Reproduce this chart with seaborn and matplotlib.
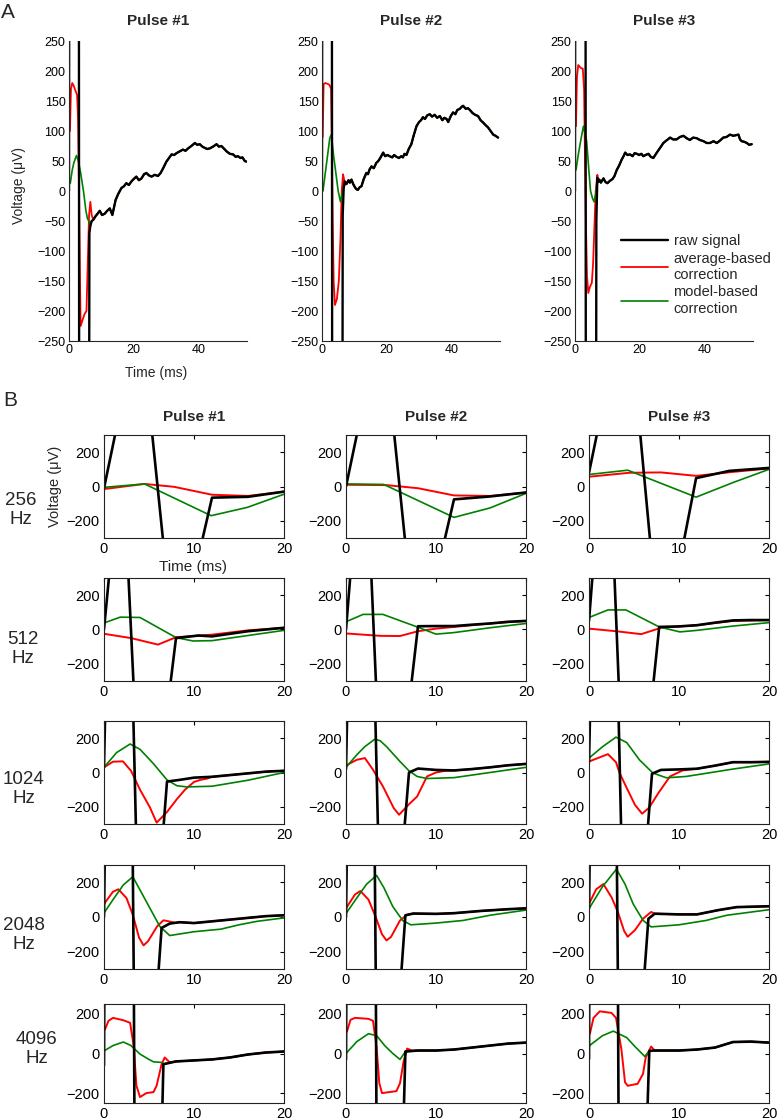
import matplotlib
matplotlib.use("Agg")
import matplotlib.pyplot as plt
import seaborn as sns
import pandas as pd
from matplotlib.lines import Line2D

# ---------------------------------------------------------
# Data: (time ms, voltage uV) pairs
# ---------------------------------------------------------
# Part A, three pulses. The raw trace is the stimulus spike plus a shared tail;
# both corrections run into that same tail once the artifact is over.
A1_RAW_HEAD = [(0, 0), (0.15, 900), (3.0, 900), (3.2, -900), (6.1, -900)]
A1_TAIL = [(6.3, -70), (6.6, -58), (7.0, -50), (7.5, -48), (8.2, -42), (8.8, -38), (9.5, -33),
           (10.2, -40), (11.0, -38), (11.8, -33), (12.6, -29), (13.4, -40), (14.0, -25), (14.4, -15),
           (15.2, -5), (16.2, 5), (17.0, 8), (17.7, 13), (18.5, 10), (19.3, 16), (20.0, 20),
           (20.8, 24), (21.6, 18), (22.4, 21), (23.2, 28), (23.9, 30), (24.7, 26), (25.5, 24),
           (26.5, 27), (27.5, 25), (28.3, 30), (29.1, 38), (30.1, 49), (30.9, 55), (31.7, 61),
           (32.5, 60), (33.2, 63), (34.2, 66), (35.2, 69), (36.0, 67), (36.8, 71), (37.8, 75),
           (38.9, 80), (39.6, 77), (40.4, 78), (41.2, 74), (41.9, 72), (42.7, 70), (43.5, 71),
           (44.5, 74), (45.6, 78), (46.3, 74), (47.1, 75), (48.0, 70), (48.7, 66), (49.7, 62),
           (50.7, 61), (51.5, 57), (52.2, 58), (53.0, 55), (53.6, 56), (54.3, 50), (54.8, 49)]
A1_AVG_HEAD = [(0.3, 100), (0.6, 170), (1.0, 180), (1.5, 175), (1.8, 170), (2.5, 160), (2.8, 120),
               (3.1, 0), (3.4, -150), (3.6, -225), (4.2, -215), (4.8, -205), (5.4, -200),
               (5.8, -120), (6.2, -40), (6.6, -18), (7.0, -40), (7.4, -46)]
A1_MOD_HEAD = [(0.4, 13), (1.0, 35), (1.5, 47), (2.3, 59), (2.9, 50), (3.6, 30), (4.5, -1),
               (5.2, -32), (5.7, -46), (6.3, -52)]

A2_RAW_HEAD = [(0, 0), (0.15, 900), (3.0, 900), (3.2, -900), (6.2, -900)]
A2_TAIL = [(6.4, -40), (6.7, 5), (7.0, 16), (7.6, 12), (8.2, 18), (8.6, 14), (9.1, 19), (9.6, 12),
           (10.1, 7), (10.6, 3), (11.1, 2), (11.6, 6), (12.2, 8), (12.9, 20), (13.7, 30), (14.2, 28),
           (14.7, 36), (15.3, 41), (16.0, 38), (16.8, 47), (17.4, 50), (18.0, 55), (18.9, 64),
           (19.5, 58), (20.2, 60), (20.9, 58), (21.7, 56), (22.3, 60), (23.0, 57), (23.8, 55),
           (24.5, 58), (25.0, 56), (25.5, 62), (26.1, 60), (26.8, 70), (27.6, 78), (28.3, 92),
           (29.2, 108), (30.0, 115), (30.6, 118), (31.2, 123), (31.8, 120), (32.5, 126),
           (33.3, 128), (34.0, 124), (34.8, 127), (35.6, 122), (36.4, 125), (37.2, 118),
           (37.8, 122), (38.5, 120), (39.0, 115), (39.8, 125), (40.5, 131), (41.2, 128),
           (41.8, 135), (42.6, 137), (43.1, 140), (43.6, 142), (44.4, 137), (45.1, 138),
           (45.7, 135), (46.5, 130), (47.3, 127), (48.2, 125), (49.0, 118), (49.8, 114),
           (50.5, 110), (51.3, 106), (52.1, 100), (52.9, 94), (53.6, 92), (54.4, 89)]
A2_AVG_HEAD = [(0.2, 90), (0.5, 178), (1.0, 180), (2.0, 178), (2.4, 176), (2.8, 170), (3.0, 100),
               (3.3, -50), (3.6, -150), (4.0, -190), (4.6, -180), (5.2, -150), (5.7, -80),
               (6.1, 0), (6.5, 28), (6.8, 20), (7.2, 10)]
A2_MOD_HEAD = [(0.3, 0), (1.5, 50), (2.4, 88), (2.9, 94), (3.6, 58), (4.4, 25), (5.0, 0),
               (5.7, -18), (6.2, -5), (6.7, 5)]

A3_RAW_HEAD = [(0, 0), (0.15, 900), (3.2, 900), (3.4, -900), (6.4, -900)]
A3_TAIL = [(6.6, -50), (6.9, 22), (7.2, 15), (7.5, 19), (8.0, 14), (8.8, 21), (9.4, 15), (10.0, 13),
           (10.8, 17), (11.6, 20), (12.2, 25), (12.9, 35), (13.6, 42), (14.4, 52), (15.0, 58),
           (15.5, 64), (16.2, 60), (17.0, 61), (17.8, 58), (18.4, 63), (19.1, 62), (19.8, 60),
           (20.5, 62), (21.1, 58), (21.8, 60), (22.7, 62), (23.4, 57), (24.2, 55), (24.8, 60),
           (25.4, 65), (26.3, 72), (27.3, 80), (28.2, 84), (29.4, 89), (30.3, 86), (31.4, 86),
           (32.4, 90), (33.5, 92), (34.5, 88), (35.5, 85), (36.5, 89), (37.6, 88), (38.6, 85),
           (39.7, 83), (40.7, 80), (41.7, 80), (42.8, 83), (43.8, 80), (44.8, 84), (45.8, 89),
           (46.8, 90), (47.9, 94), (48.9, 92), (50.5, 94), (51.0, 86), (51.5, 83), (52.3, 82),
           (53.1, 80), (53.8, 77), (54.6, 78)]
A3_AVG_HEAD = [(0.3, 108), (0.6, 190), (1.0, 210), (1.8, 205), (2.4, 204), (2.8, 170), (3.1, 50),
               (3.4, -60), (3.7, -140), (4.1, -170), (4.6, -160), (5.2, -153), (5.6, -120),
               (6.0, -60), (6.4, 0), (6.9, 27), (7.2, 18)]
A3_MOD_HEAD = [(0.3, 35), (1.0, 60), (1.8, 85), (2.6, 108), (3.6, 83), (4.2, 40), (4.8, 0),
               (5.4, -12), (5.9, -18), (6.4, -5), (6.8, 15)]

# Part B, one list per sampling rate, one entry per pulse
RATES = ["256", "512", "1024", "2048", "4096"]

RAW_256 = [
    [(0, -10), (4.0, 1000), (7.9, -1000), (12.0, -65), (16.0, -60), (20.0, -30)],
    [(0, 0), (4.0, 1000), (7.9, -1000), (12.0, -75), (16.0, -58), (20.0, -35)],
    [(0, 80), (4.2, 1150), (8.0, -1000), (11.9, 49), (15.6, 91), (20.0, 108)],
]
AVG_256 = [
    [(0, -15), (4.5, 15), (7.8, -2), (12.0, -48), (16.0, -55), (20, -30)],
    [(0, 10), (4.5, 8), (8.0, -10), (12.0, -52), (16.0, -55), (20, -35)],
    [(0, 57), (4.5, 80), (8.0, 82), (11.9, 62), (16, 85), (20, 105)],
]
MOD_256 = [
    [(0, -5), (4.5, 15), (11.9, -170), (15.9, -122), (20, -45)],
    [(0, 15), (4.2, 12), (12.0, -180), (16.0, -125), (20, -40)],
    [(0, 70), (4.3, 95), (11.9, -62), (16.0, 23), (20, 100)],
]

RAW_512 = [
    [(0, 0), (2.0, 1100), (3.9, -1000), (5.9, -950), (8.0, -50), (10.5, -35), (12, -40),
     (14, -25), (16, -10), (18, 0), (20, 10)],
    [(0, 0), (2.0, 1300), (3.9, -1000), (5.9, -940), (8.0, 19), (10, 20), (12, 20), (14, 28),
     (16, 35), (18, 45), (20, 50)],
    [(0, 50), (2.0, 1400), (3.9, -1100), (5.9, -950), (7.8, 15), (10, 18), (12, 25), (14, 40),
     (16, 53), (18, 55), (20, 55)],
]
AVG_512 = [
    [(0, -25), (3.0, -50), (6.0, -88), (8.0, -45), (10, -38), (12, -30), (16, -5), (20, 10)],
    [(0, -23), (3.8, -37), (6.0, -38), (8.0, -10), (10, 5), (12, 15), (16, 35), (20, 50)],
    [(0, 5), (3.0, -10), (5.8, -27), (8.0, 10), (12, 25), (16, 50), (20, 55)],
]
MOD_512 = [
    [(0, 38), (1.8, 72), (4.0, 70), (8.0, -47), (9.9, -67), (12, -65), (16, -35), (20, -5)],
    [(0, 45), (1.9, 88), (4.1, 88), (7.9, 15), (10.0, -27), (12, -18), (16, 10), (20, 35)],
    [(0, 70), (2.1, 114), (4.1, 114), (7.8, 15), (10.1, -14), (12, -5), (16, 20), (20, 40)],
]

RAW_1024 = [
    [(0, 30), (1.0, 2500), (2.0, 2000), (3.0, 900), (3.9, -1100), (4.9, -1500), (5.9, -800),
     (7.0, -53), (8.4, -43), (10, -30), (12, -25), (14, -15), (16, -5), (18, 5), (20, 10)],
    [(0, 20), (1.0, 2500), (2.0, 2000), (3.0, 900), (3.9, -1100), (4.9, -1500), (5.9, -700),
     (7.0, 0), (8.0, 23), (10, 15), (12, 12), (14, 20), (16, 30), (18, 42), (20, 50)],
    [(0, 60), (1.0, 2500), (2.0, 2000), (3.0, 1000), (3.9, -1100), (4.9, -1500), (5.9, -750),
     (7.0, -7), (8.0, 15), (10, 18), (12, 22), (14, 40), (16, 60), (18, 60), (20, 62)],
]
AVG_1024 = [
    [(0, 30), (1.0, 63), (2.1, 65), (3.0, 10), (4.0, -100), (5.1, -203), (5.85, -292),
     (7.0, -230), (8.1, -155), (9.0, -100), (10.0, -55), (10.7, -43), (11.5, -35)],
    [(0, 41), (1.2, 74), (2.1, 84), (3.0, 16), (4.1, -81), (5.3, -207), (5.9, -246),
     (7.0, -185), (7.9, -140), (9.0, -23), (10, 0), (11, 10)],
    [(0, 64), (2.1, 107), (3.0, 60), (3.4, -3), (4.2, -91), (5.1, -188), (5.9, -240),
     (6.7, -204), (7.7, -120), (9.0, -23), (10.4, 12), (11, 16)],
]
MOD_1024 = [
    [(0, 30), (1.4, 116), (2.9, 166), (4.0, 135), (5.5, 51), (7.0, -43), (8.1, -77),
     (9.2, -84), (12, -80), (16, -45), (20, 0)],
    [(0, 30), (1.2, 103), (2.1, 151), (3.2, 194), (3.8, 185), (4.5, 151), (6.0, 64), (7.0, 10),
     (7.9, -23), (9.0, -35), (12, -30), (16, 0), (20, 30)],
    [(0, 84), (1.5, 150), (3.0, 206), (4.2, 174), (5.6, 74), (7.1, -3), (8.6, -31), (10.8, -23),
     (16, 20), (20, 50)],
]

RAW_2048 = [
    [(0, 0), (0.5, 2000), (3.0, 1500), (3.5, -1500), (5.8, -500), (6.4, -63), (7.3, -38),
     (8.4, -30), (10, -35), (12, -25), (15, -10), (18, 5), (20, 10)],
    [(0, 0), (0.5, 2000), (3.0, 1500), (3.5, -1500), (5.9, -500), (6.6, 10), (7.5, 20),
     (10, 18), (12, 22), (15, 35), (18, 45), (20, 50)],
    [(0, 50), (0.5, 2000), (2.9, 1500), (3.4, -1500), (5.7, -650), (6.6, -10), (7.3, 19),
     (10, 15), (12, 15), (14.4, 40), (16.4, 57), (20, 62)],
]
AVG_2048 = [
    [(0, 75), (1.0, 146), (1.6, 160), (2.5, 109), (3.2, 13), (3.9, -120), (4.4, -164),
     (4.9, -139), (5.9, -54), (6.6, -19), (7.2, -25), (8.0, -35)],
    [(0, 50), (1.0, 130), (1.6, 150), (2.5, 100), (3.3, 0), (4.0, -100), (4.5, -135),
     (5.0, -115), (6.0, -20), (6.7, 10), (7.2, 18)],
    [(0, 76), (0.8, 160), (1.6, 190), (2.5, 114), (3.2, 30), (3.9, -80), (4.3, -114),
     (5.1, -76), (6.0, -10), (6.9, 29), (7.2, 22)],
]
MOD_2048 = [
    [(0, 23), (1.0, 100), (2.15, 185), (3.2, 232), (4.0, 156), (5.1, 51), (6.2, -54),
     (7.3, -107), (10, -85), (13, -70), (15, -45), (17, -25), (20, -5)],
    [(0, 20), (1.2, 110), (2.3, 190), (3.4, 240), (4.2, 170), (5.2, 60), (6.3, -20),
     (7.2, -45), (10, -35), (13, -20), (16, 10), (20, 40)],
    [(0, 48), (1.5, 175), (3.05, 276), (4.0, 190), (4.9, 76), (6.0, -19), (6.9, -57),
     (10, -45), (13, -20), (15.3, 10), (20, 42)],
]

RAW_4096 = [
    [(0, -60), (0.15, 1500), (3.2, 1500), (3.5, -1500), (6.1, -1000), (6.6, -54), (8, -40),
     (10, -35), (12, -30), (14, -20), (16, -5), (18, 5), (20, 10)],
    [(0, -30), (0.15, 1500), (3.2, 1500), (3.5, -1500), (6.0, -1000), (6.6, 10), (8, 15),
     (10, 15), (12, 20), (14, 30), (16, 40), (18, 50), (20, 55)],
    [(0, -28), (0.1, 1500), (3.1, 1500), (3.4, -1500), (6.0, -1000), (6.7, 13), (7.2, 15),
     (10, 15), (12, 20), (14, 30), (16, 58), (18, 60), (20, 55)],
]
AVG_4096 = [
    [(0.1, 121), (0.5, 165), (1.0, 180), (2.15, 168), (2.9, 155), (3.3, 38), (3.6, -162),
     (4.0, -220), (4.7, -200), (5.5, -195), (5.85, -162), (6.4, -54), (6.75, -20), (7.3, -45)],
    [(0.1, 110), (0.5, 170), (1.0, 180), (2.5, 175), (3.0, 165), (3.4, 30), (3.7, -150),
     (4.0, -200), (4.8, -195), (5.6, -190), (6.0, -150), (6.4, -40), (6.8, 25), (7.3, 15)],
    [(0.1, 100), (0.5, 180), (1.2, 213), (2.5, 205), (3.0, 180), (3.6, 21), (4.0, -145),
     (4.3, -163), (5.4, -153), (6.0, -103), (6.3, -20), (6.9, 35), (7.3, 15)],
]
MOD_4096 = [
    [(0, 13), (1.0, 40), (2.15, 58), (3.0, 40), (4.0, -3), (5.0, -30), (5.5, -42), (6.4, -45)],
    [(0, 0), (1.2, 60), (2.5, 100), (3.4, 90), (4.3, 40), (5.2, 0), (6.0, -30), (6.6, 10)],
    [(0, 38), (1.5, 90), (2.7, 113), (4.2, 80), (5.0, 40), (6.2, -15), (6.7, 13)],
]

B_RAW = [RAW_256, RAW_512, RAW_1024, RAW_2048, RAW_4096]
B_AVG = [AVG_256, AVG_512, AVG_1024, AVG_2048, AVG_4096]
B_MOD = [MOD_256, MOD_512, MOD_1024, MOD_2048, MOD_4096]

# ---------------------------------------------------------
# Style / layout (pixel positions on the 777x1120 canvas)
# ---------------------------------------------------------
W, H = 777, 1120
RED, GREEN, BLACK = "#ff0000", "#008000", "#000000"

sns.set_style("white")
plt.rcParams["font.family"] = ["Liberation Sans", "DejaVu Sans"]
plt.rcParams["axes.linewidth"] = 0.8


def join(head, base):
    # a correction trace follows the raw trace once the artifact is gone
    return head + [p for p in base if p[0] > head[-1][0]]


def trace(ax, pts, color, lw):
    df = pd.DataFrame(pts, columns=["t", "v"])
    sns.lineplot(data=df, x="t", y="v", ax=ax, color=color, linewidth=lw,
                 sort=False, estimator=None)
    ax.set_xlabel("")
    ax.set_ylabel("")


def box(left, top, width, height):
    return [left / W, 1 - (top + height) / H, width / W, height / H]


fig = plt.figure(figsize=(W / 100, H / 100), dpi=100)

# ---------------------------------------------------------
# A: full pulses
# ---------------------------------------------------------
a_panels = [
    (A1_RAW_HEAD, A1_TAIL, A1_AVG_HEAD, A1_MOD_HEAD),
    (A2_RAW_HEAD, A2_TAIL, A2_AVG_HEAD, A2_MOD_HEAD),
    (A3_RAW_HEAD, A3_TAIL, A3_AVG_HEAD, A3_MOD_HEAD),
]
a_left = [69, 322, 575]
for i, (raw_head, tail, avg_head, mod_head) in enumerate(a_panels):
    ax = fig.add_axes(box(a_left[i], 41, 178, 300))
    trace(ax, join(avg_head, tail), RED, 1.3)
    trace(ax, join(mod_head, tail), GREEN, 1.2)
    trace(ax, raw_head + tail, BLACK, 1.7)
    ax.set_xlim(0, 55)
    ax.set_ylim(-250, 250)
    ax.set_xticks([0, 20, 40])
    ax.set_yticks(range(-250, 251, 50))
    ax.spines["top"].set_visible(False)
    ax.spines["right"].set_visible(False)
    ax.tick_params(direction="in", length=3, labelsize=9, pad=2.5, colors="black")
    fig.text((a_left[i] + 89) / W, 1 - 21 / H, f"Pulse #{i + 1}", ha="center", va="center",
             fontsize=11, fontweight="bold")

fig.text(8 / W, 1 - 13 / H, "A", ha="center", va="center", fontsize=15)
fig.text(19 / W, 1 - 186 / H, "Voltage (\u03bcV)", rotation=90, ha="center", va="center",
         fontsize=10)
fig.text(156 / W, 1 - 373 / H, "Time (ms)", ha="center", va="center", fontsize=10)

handles = [Line2D([], [], color=BLACK, lw=1.7), Line2D([], [], color=RED, lw=1.3),
           Line2D([], [], color=GREEN, lw=1.2)]
fig.legend(handles, ["raw signal", "average-based\ncorrection", "model-based\ncorrection"],
           loc="upper left", bbox_to_anchor=(621 / W, 1 - 234 / H), frameon=False,
           fontsize=10.5, handlelength=3.2, handletextpad=0.4, labelspacing=0.25,
           borderpad=0, borderaxespad=0)

# ---------------------------------------------------------
# B: first 20 ms at each sampling rate
# ---------------------------------------------------------
b_left = [104, 346, 589]
b_top = [435, 578, 721, 865, 1004]
b_height = [103, 103, 103, 104, 99]
label_xy = [(21, 510), (23, 649), (24, 789), (24, 935), (37, 1049)]

for r in range(5):
    for c in range(3):
        ax = fig.add_axes(box(b_left[c], b_top[r], 180, b_height[r]))
        # corrections merge with the raw tail from 1024 Hz upwards
        avg = B_AVG[r][c] if r < 2 else join(B_AVG[r][c], B_RAW[r][c])
        mod = B_MOD[r][c] if r < 4 else join(B_MOD[r][c], B_RAW[r][c])
        trace(ax, avg, RED, 1.4)
        trace(ax, mod, GREEN, 1.2)
        trace(ax, B_RAW[r][c], BLACK, 1.9)
        ax.set_xlim(0, 20)
        ax.set_ylim((-250, 250) if r == 4 else (-300, 300))
        ax.set_xticks([0, 10, 20])
        ax.set_yticks([-200, 0, 200])
        for s in ax.spines.values():
            s.set_color("#222222")
        ax.tick_params(direction="in", length=3, labelsize=10.5, pad=3,
                       top=True, right=True, colors="black")
        if r == 0:
            fig.text((b_left[c] + 90) / W, 1 - 417 / H, f"Pulse #{c + 1}", ha="center",
                     va="center", fontsize=11, fontweight="bold")
    fig.text(label_xy[r][0] / W, 1 - label_xy[r][1] / H, f"{RATES[r]}\nHz", ha="center",
             va="center", fontsize=13.5, linespacing=1.15)

fig.text(10 / W, 1 - 400 / H, "B", ha="center", va="center", fontsize=15)
fig.text(55 / W, 1 - 486 / H, "Voltage (\u03bcV)", rotation=90, ha="center", va="center",
         fontsize=10.5)
fig.text(193 / W, 1 - 567 / H, "Time (ms)", ha="center", va="center", fontsize=11)

fig.savefig("out.png", dpi=100)
